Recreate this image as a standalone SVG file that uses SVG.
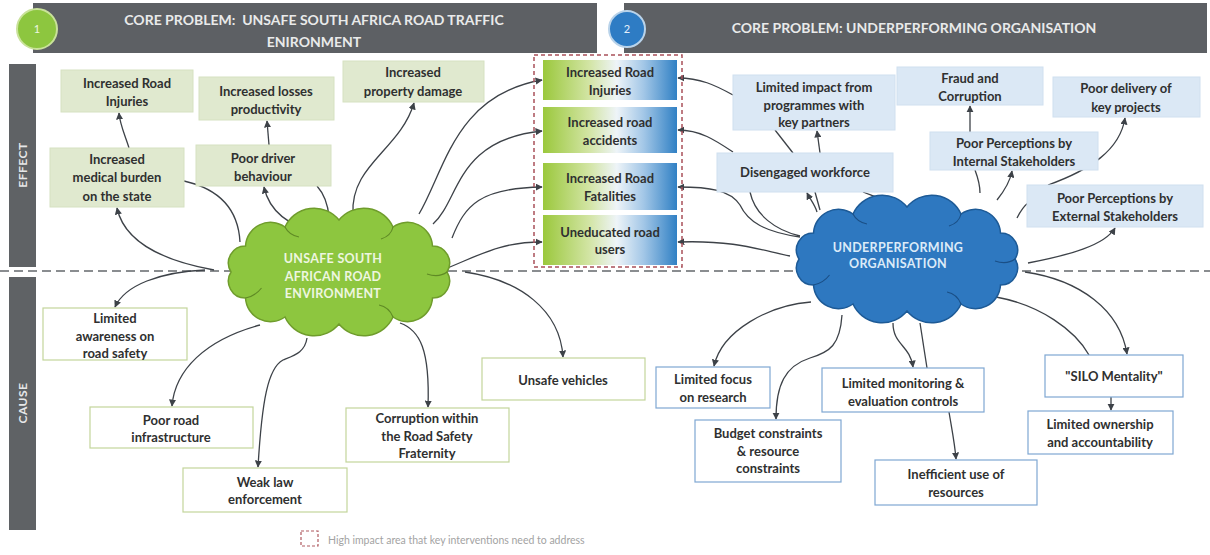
<svg xmlns="http://www.w3.org/2000/svg" width="1210" height="555" viewBox="0 0 1210 555">
<defs>
<style>
.t{font-family:Lato,"Open Sans","Liberation Sans",sans-serif;font-weight:bold;font-size:13px;fill:#2f3030;text-anchor:middle}
.ban{font-family:Lato,"Open Sans","Liberation Sans",sans-serif;font-weight:bold;font-size:14px;fill:#e9eaea;text-anchor:middle}
.side{font-family:Lato,"Open Sans","Liberation Sans",sans-serif;font-weight:bold;font-size:12px;fill:#e6e7e8;text-anchor:middle;letter-spacing:0.5px}
.ct{font-family:Lato,"Open Sans","Liberation Sans",sans-serif;font-weight:bold;font-size:12.5px;text-anchor:middle;letter-spacing:0.3px}
.eg{fill:#e0e9cf;stroke:#d6e1c1;stroke-width:1}
.eb{fill:#dbe8f5;stroke:#d0e0ef;stroke-width:1}
.cg{fill:#ffffff;stroke:#c3d59b;stroke-width:1.2}
.cb{fill:#ffffff;stroke:#7fa7d3;stroke-width:1.2}
.gb{fill:url(#grad)}
.c{fill:none;stroke:#3d4248;stroke-width:1.3}
.a{marker-end:url(#ar)}
.bar{fill:#5f6265}
.inner{fill:none;stroke-width:1.1}
</style>
<linearGradient id="grad" x1="0" y1="0" x2="1" y2="0">
<stop offset="0" stop-color="#9bc83c"/>
<stop offset="0.35" stop-color="#d3e5a6"/>
<stop offset="0.55" stop-color="#eef4f8"/>
<stop offset="0.75" stop-color="#a3c7e7"/>
<stop offset="1" stop-color="#3080c4"/>
</linearGradient>
<marker id="ar" viewBox="0 0 10 10" refX="9" refY="5" markerWidth="5.5" markerHeight="5.5" orient="auto">
<path d="M0,0 L10,5 L0,10 z" fill="#3d4248"/>
</marker>
<path id="cloud" d="M-108,0 A17,17 0 0 1 -93.5,-26 A25,25 0 0 1 -54,-45 A32,32 0 0 1 0,-52 A32,32 0 0 1 54,-45 A25,25 0 0 1 93.5,-26 A17,17 0 0 1 108,0 A17,17 0 0 1 93.5,26 A25,25 0 0 1 54,45 A32,32 0 0 1 0,52 A32,32 0 0 1 -54,45 A25,25 0 0 1 -93.5,26 A17,17 0 0 1 -108,0 Z"/>
<path id="cloudin" d="M-54,-45 q4,8 14,10 M54,-45 q-2,9 -12,12 M108,0 q-8,6 -20,2 M54,45 q-4,-10 -14,-12 M-93.5,26 q10,-2 16,-10"/>
</defs>

<rect width="1210" height="555" fill="#ffffff"/>

<!-- banners -->
<g id="banner1">
<rect x="33" y="3" width="564" height="50" fill="#5d6064"/>
<circle cx="37" cy="29" r="20" fill="#8dc63f" stroke="#c9e29a" stroke-width="2"/>
<text x="37" y="33" font-family="Lato,sans-serif" font-size="11" fill="#eef6e0" text-anchor="middle">1</text>
<text class="ban" x="314" y="25" xml:space="preserve">CORE PROBLEM:  UNSAFE SOUTH AFRICA ROAD TRAFFIC</text>
<text class="ban" x="314" y="47">ENIRONMENT</text>
</g>
<g id="banner2">
<rect x="624" y="3" width="583" height="50" fill="#5d6064"/>
<circle cx="627" cy="29" r="18" fill="#2e7cc4" stroke="#b9d3ea" stroke-width="2"/>
<text x="627" y="33" font-family="Lato,sans-serif" font-size="11" fill="#e6f0fa" text-anchor="middle">2</text>
<text class="ban" x="914" y="33">CORE PROBLEM: UNDERPERFORMING ORGANISATION</text>
</g>

<!-- side bars -->
<g id="effect-bar">
<rect class="bar" x="9" y="64" width="27" height="203"/>
<text class="side" transform="translate(26.5,165) rotate(-90)">EFFECT</text>
</g>
<g id="cause-bar">
<rect class="bar" x="9" y="277" width="27" height="253"/>
<text class="side" transform="translate(26.5,403) rotate(-90)">CAUSE</text>
</g>

<line x1="0" y1="271" x2="1210" y2="271" stroke="#8a8d90" stroke-width="2" stroke-dasharray="9 5"/>

<!-- connectors -->
<g id="connectors">
<path class="c a" d="M214,270 C170,262 125,245 117,208"/>
<path class="c" d="M184,181 C215,188 238,205 240,242"/>
<path class="c a" d="M129,148 C125,135 120,125 119,113"/>
<path class="c a" d="M321,234 C295,228 270,215 264,187"/>
<path class="c a" d="M269,145 L267,121"/>
<path class="c" d="M317,186 C325,195 328,205 329,217"/>
<path class="c a" d="M353,214 C350,165 400,150 414,103"/>
<path class="c a" d="M419,214 C445,170 455,95 542,80"/>
<path class="c a" d="M433,224 C460,200 455,140 542,131"/>
<path class="c a" d="M452,238 C465,205 480,188 542,187"/>
<path class="c a" d="M445,269 C480,255 500,242 542,242"/>

<path class="c a" d="M205,270 C160,272 125,285 115,307"/>
<path class="c a" d="M260,325 C205,340 175,370 172,406"/>
<path class="c a" d="M307,338 C305,352 295,355 283,360 C268,368 262,400 258,467"/>
<path class="c a" d="M400,323 C420,330 430,350 428,407"/>
<path class="c a" d="M465,272 C520,280 560,310 563,357"/>

<path class="c a" d="M733,95 C715,85 700,78 678,78"/>
<path class="c a" d="M733,152 C715,140 700,130 678,130"/>
<path class="c a" d="M800,237 C765,232 748,222 740,205 C730,190 710,187 678,187"/>
<path class="c a" d="M790,256 C760,250 735,240 678,242"/>
<path class="c" d="M750,192 C755,215 775,230 800,236"/>
<path class="c a" d="M817,212 C815,205 810,199 807,193"/>
<path class="c" d="M815,192 L820,210"/>
<path class="c" d="M863,192 C870,195 877,197 882,200"/>
<path class="c" d="M775,130 L793,153"/>
<path class="c a" d="M820,153 L817,131"/>
<path class="c a" d="M970,132 L970,106"/>
<path class="c" d="M975,170 C978,178 980,185 980,193"/>
<path class="c a" d="M997,200 C1005,190 1010,182 1012,171"/>
<path class="c a" d="M1048,185 C1090,170 1120,150 1125,118"/>
<path class="c" d="M1017,218 C1020,212 1024,206 1028,203"/>
<path class="c a" d="M1028,263 C1070,255 1105,245 1115,228"/>

<path class="c a" d="M811,302 C770,305 722,330 714,366"/>
<path class="c a" d="M842,315 C840,345 830,352 810,358 C785,366 776,385 776,419"/>
<path class="c a" d="M893,323 C893,345 910,345 913,367"/>
<path class="c" d="M920,323 L927,368"/>
<path class="c a" d="M949,412 C952,430 955,445 956,459"/>
<path class="c" d="M996,297 C1040,305 1075,330 1089,355"/>
<path class="c a" d="M1025,272 C1080,280 1120,310 1127,354"/>
<path class="c a" d="M1111,397 L1111,410"/>
</g>

<!-- clouds -->
<g id="cloud-left" transform="translate(339,272)">
<use href="#cloud" fill="#8dc63f" stroke="#6f9c2c" stroke-width="1.5"/>
<use href="#cloudin" class="inner" stroke="#5f8a25"/>
<text class="ct" fill="#eef6e0" x="-6" y="-9.5">UNSAFE SOUTH</text>
<text class="ct" fill="#eef6e0" x="-6" y="8.5">AFRICAN ROAD</text>
<text class="ct" fill="#eef6e0" x="-6" y="25.5">ENVIRONMENT</text>
</g>
<g id="cloud-right" transform="translate(907,259)">
<use href="#cloud" fill="#2e78c0" stroke="#1d5a96" stroke-width="1.5"/>
<use href="#cloudin" class="inner" stroke="#1a4f86"/>
<text class="ct" fill="#dcebf8" x="-9" y="-7.5">UNDERPERFORMING</text>
<text class="ct" fill="#dcebf8" x="-9" y="8.5">ORGANISATION</text>
</g>

<!-- left effect nodes -->
<g id="n-road-injuries-l"><rect class="eg" x="61" y="70" width="132" height="42"/><text class="t" x="127" y="87.5">Increased Road</text><text class="t" x="127" y="106">Injuries</text></g>
<g id="n-losses"><rect class="eg" x="199" y="77" width="135" height="43"/><text class="t" x="266" y="95.5">Increased losses</text><text class="t" x="266" y="113.5">productivity</text></g>
<g id="n-property"><rect class="eg" x="343" y="61" width="141" height="41"/><text class="t" x="413" y="76.5">Increased</text><text class="t" x="413" y="96">property damage</text></g>
<g id="n-medical"><rect class="eg" x="50" y="148" width="134" height="59"/><text class="t" x="117" y="163.5">Increased</text><text class="t" x="117" y="182">medical burden</text><text class="t" x="117" y="200.5">on the state</text></g>
<g id="n-driver"><rect class="eg" x="196" y="145" width="135" height="41"/><text class="t" x="263" y="162.5">Poor driver</text><text class="t" x="263" y="180.5">behaviour</text></g>

<!-- centre high impact nodes -->
<g id="high-impact-area"><rect x="534" y="55" width="148" height="212" fill="none" stroke="#a9505a" stroke-width="1.5" stroke-dasharray="4 3"/></g>
<g id="n-c-injuries"><rect class="gb" x="543" y="60" width="134" height="40"/><text class="t" x="610" y="76.5">Increased Road</text><text class="t" x="610" y="94.5">Injuries</text></g>
<g id="n-c-accidents"><rect class="gb" x="543" y="107" width="134" height="46"/><text class="t" x="610" y="126.5">Increased road</text><text class="t" x="610" y="144.5">accidents</text></g>
<g id="n-c-fatalities"><rect class="gb" x="543" y="163" width="134" height="47"/><text class="t" x="610" y="182.5">Increased Road</text><text class="t" x="610" y="201">Fatalities</text></g>
<g id="n-c-uneducated"><rect class="gb" x="543" y="215" width="134" height="50"/><text class="t" x="610" y="236.5">Uneducated road</text><text class="t" x="610" y="254">users</text></g>

<!-- right effect nodes -->
<g id="n-limited-impact"><rect class="eb" x="733" y="75" width="162" height="55"/><text class="t" x="814" y="92">Limited impact from</text><text class="t" x="814" y="110">programmes with</text><text class="t" x="814" y="127">key partners</text></g>
<g id="n-fraud"><rect class="eb" x="897" y="67" width="146" height="38"/><text class="t" x="970" y="82.5">Fraud and</text><text class="t" x="970" y="100.5">Corruption</text></g>
<g id="n-delivery"><rect class="eb" x="1053" y="77" width="147" height="40"/><text class="t" x="1126" y="92.5">Poor delivery of</text><text class="t" x="1126" y="112">key projects</text></g>
<g id="n-disengaged"><rect class="eb" x="717" y="153" width="176" height="39"/><text class="t" x="805" y="176.5">Disengaged workforce</text></g>
<g id="n-internal"><rect class="eb" x="930" y="132" width="168" height="38"/><text class="t" x="1014" y="147.5">Poor Perceptions by</text><text class="t" x="1014" y="165.5">Internal Stakeholders</text></g>
<g id="n-external"><rect class="eb" x="1027" y="185" width="176" height="42"/><text class="t" x="1115" y="202.5">Poor Perceptions by</text><text class="t" x="1115" y="221">External Stakeholders</text></g>

<!-- left cause nodes -->
<g id="n-awareness"><rect class="cg" x="43" y="308" width="144" height="52"/><text class="t" x="115" y="322.5">Limited</text><text class="t" x="115" y="340.5">awareness on</text><text class="t" x="115" y="357.5">road safety</text></g>
<g id="n-infrastructure"><rect class="cg" x="90" y="407" width="163" height="41"/><text class="t" x="171" y="424.5">Poor road</text><text class="t" x="171" y="441.5">infrastructure</text></g>
<g id="n-law"><rect class="cg" x="183" y="468" width="164" height="44"/><text class="t" x="265" y="486.5">Weak law</text><text class="t" x="265" y="503.5">enforcement</text></g>
<g id="n-corruption"><rect class="cg" x="346" y="408" width="163" height="54"/><text class="t" x="427" y="422.5">Corruption within</text><text class="t" x="427" y="440.5">the Road Safety</text><text class="t" x="427" y="457.5">Fraternity</text></g>
<g id="n-vehicles"><rect class="cg" x="482" y="358" width="163" height="42"/><text class="t" x="563" y="384.5">Unsafe vehicles</text></g>

<!-- right cause nodes -->
<g id="n-research"><rect class="cb" x="656" y="367" width="114" height="41"/><text class="t" x="713" y="384">Limited focus</text><text class="t" x="713" y="401.5">on research</text></g>
<g id="n-budget"><rect class="cb" x="695" y="420" width="146" height="62"/><text class="t" x="768" y="437.5">Budget constraints</text><text class="t" x="768" y="455.5">&amp; resource</text><text class="t" x="768" y="472.5">constraints</text></g>
<g id="n-monitoring"><rect class="cb" x="822" y="368" width="162" height="44"/><text class="t" x="903" y="387.5">Limited monitoring &amp;</text><text class="t" x="903" y="405.5">evaluation controls</text></g>
<g id="n-inefficient"><rect class="cb" x="875" y="460" width="162" height="45"/><text class="t" x="956" y="478.5">Inefficient use of</text><text class="t" x="956" y="496.5">resources</text></g>
<g id="n-silo"><rect class="cb" x="1045" y="355" width="138" height="42"/><text class="t" x="1114" y="380.5">"SILO Mentality"</text></g>
<g id="n-ownership"><rect class="cb" x="1028" y="411" width="145" height="43"/><text class="t" x="1100" y="428.5">Limited ownership</text><text class="t" x="1100" y="446.5">and accountability</text></g>

<!-- legend -->
<g id="legend">
<rect x="301" y="531" width="17" height="15" fill="none" stroke="#b05a60" stroke-width="1.2" stroke-dasharray="3 2"/>
<text x="328" y="544" font-family="Lato,'Liberation Sans',sans-serif" font-size="10.5" fill="#a3a3a3">High impact area that key interventions need to address</text>
</g>
</svg>
